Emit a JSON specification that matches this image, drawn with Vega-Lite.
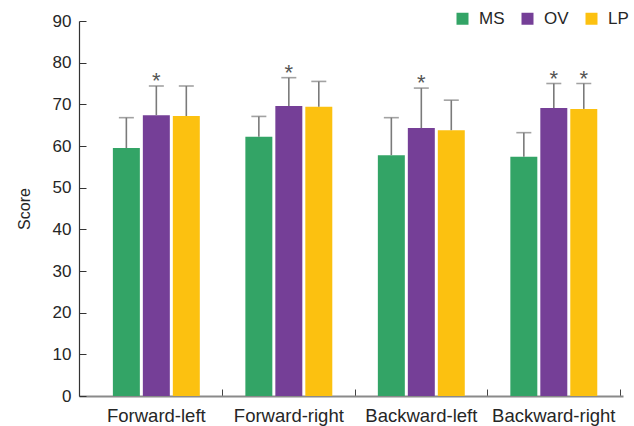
{
  "$schema": "https://vega.github.io/schema/vega-lite/v6.json",
  "width": 544,
  "height": 375,
  "autosize": {"type": "none"},
  "padding": {"left": 79, "top": 21, "right": 11, "bottom": 30},
  "background": "white",
  "config": {
    "view": {"stroke": null},
    "font": "Liberation Sans",
    "axis": {"labelColor": "#262626", "titleColor": "#262626", "grid": false}
  },
  "data": {
    "values": [
      {"pos": "Forward-left", "group": "MS", "mean": 59.5, "err": 66.8, "sig": ""},
      {"pos": "Forward-left", "group": "OV", "mean": 67.4, "err": 74.4, "sig": "*"},
      {"pos": "Forward-left", "group": "LP", "mean": 67.2, "err": 74.4, "sig": ""},
      {"pos": "Forward-right", "group": "MS", "mean": 62.2, "err": 67.1, "sig": ""},
      {"pos": "Forward-right", "group": "OV", "mean": 69.6, "err": 76.4, "sig": "*"},
      {"pos": "Forward-right", "group": "LP", "mean": 69.4, "err": 75.5, "sig": ""},
      {"pos": "Backward-left", "group": "MS", "mean": 57.8, "err": 66.8, "sig": ""},
      {"pos": "Backward-left", "group": "OV", "mean": 64.3, "err": 73.9, "sig": "*"},
      {"pos": "Backward-left", "group": "LP", "mean": 63.8, "err": 71.0, "sig": ""},
      {"pos": "Backward-right", "group": "MS", "mean": 57.4, "err": 63.2, "sig": ""},
      {"pos": "Backward-right", "group": "OV", "mean": 69.1, "err": 75.0, "sig": "*"},
      {"pos": "Backward-right", "group": "LP", "mean": 68.9, "err": 75.0, "sig": "*"}
    ]
  },
  "encoding": {
    "x": {
      "field": "pos", "type": "nominal", "sort": null,
      "scale": {"paddingInner": 0, "paddingOuter": 0.053, "align": 0.79},
      "axis": {
        "title": null, "labelAngle": 0, "labelFontSize": 18.5, "labelPadding": 17,
        "domainColor": "#8a8a8a", "domainWidth": 2,
        "tickColor": "#444", "tickSize": -7, "tickWidth": 1, "bandPosition": 1
      }
    },
    "xOffset": {
      "field": "group", "type": "nominal", "sort": ["MS", "OV", "LP"],
      "scale": {"paddingInner": 0.1, "paddingOuter": 0.76}
    }
  },
  "layer": [
    {
      "mark": {"type": "bar"},
      "encoding": {
        "y": {
          "field": "mean", "type": "quantitative",
          "scale": {"domain": [0, 90], "nice": false},
          "axis": {
            "title": "Score", "titleFontSize": 16, "titleFontWeight": "normal", "titlePadding": 20,
            "values": [0, 10, 20, 30, 40, 50, 60, 70, 80, 90],
            "labelFontSize": 17, "labelPadding": 15,
            "domainColor": "#333", "domainWidth": 1.2,
            "tickColor": "#333", "tickSize": -7, "tickWidth": 1
          }
        },
        "color": {
          "field": "group", "type": "nominal", "sort": ["MS", "OV", "LP"],
          "scale": {"domain": ["MS", "OV", "LP"], "range": ["#33a466", "#753f97", "#fcc110"]},
          "legend": {
            "title": null, "orient": "none", "direction": "horizontal",
            "legendX": 375, "legendY": -11,
            "symbolType": "square", "symbolSize": 144, "symbolStrokeWidth": 0, "symbolOpacity": 1,
            "labelFontSize": 17, "labelColor": "#262626", "labelOffset": 8, "columnPadding": 14
          }
        }
      }
    },
    {
      "mark": {"type": "rule", "color": "#7a7a7a", "strokeWidth": 1.6},
      "encoding": {
        "y": {"field": "mean", "type": "quantitative"},
        "y2": {"field": "err"}
      }
    },
    {
      "mark": {"type": "tick", "color": "#7a7a7a", "thickness": 1.6, "size": 15, "orient": "horizontal"},
      "encoding": {
        "y": {"field": "err", "type": "quantitative"}
      }
    },
    {
      "transform": [{"filter": "datum.sig == '*'"}],
      "mark": {"type": "text", "fontSize": 22, "color": "#555", "baseline": "alphabetic", "dy": 2},
      "encoding": {
        "y": {"field": "err", "type": "quantitative"},
        "text": {"field": "sig"}
      }
    }
  ]
}
